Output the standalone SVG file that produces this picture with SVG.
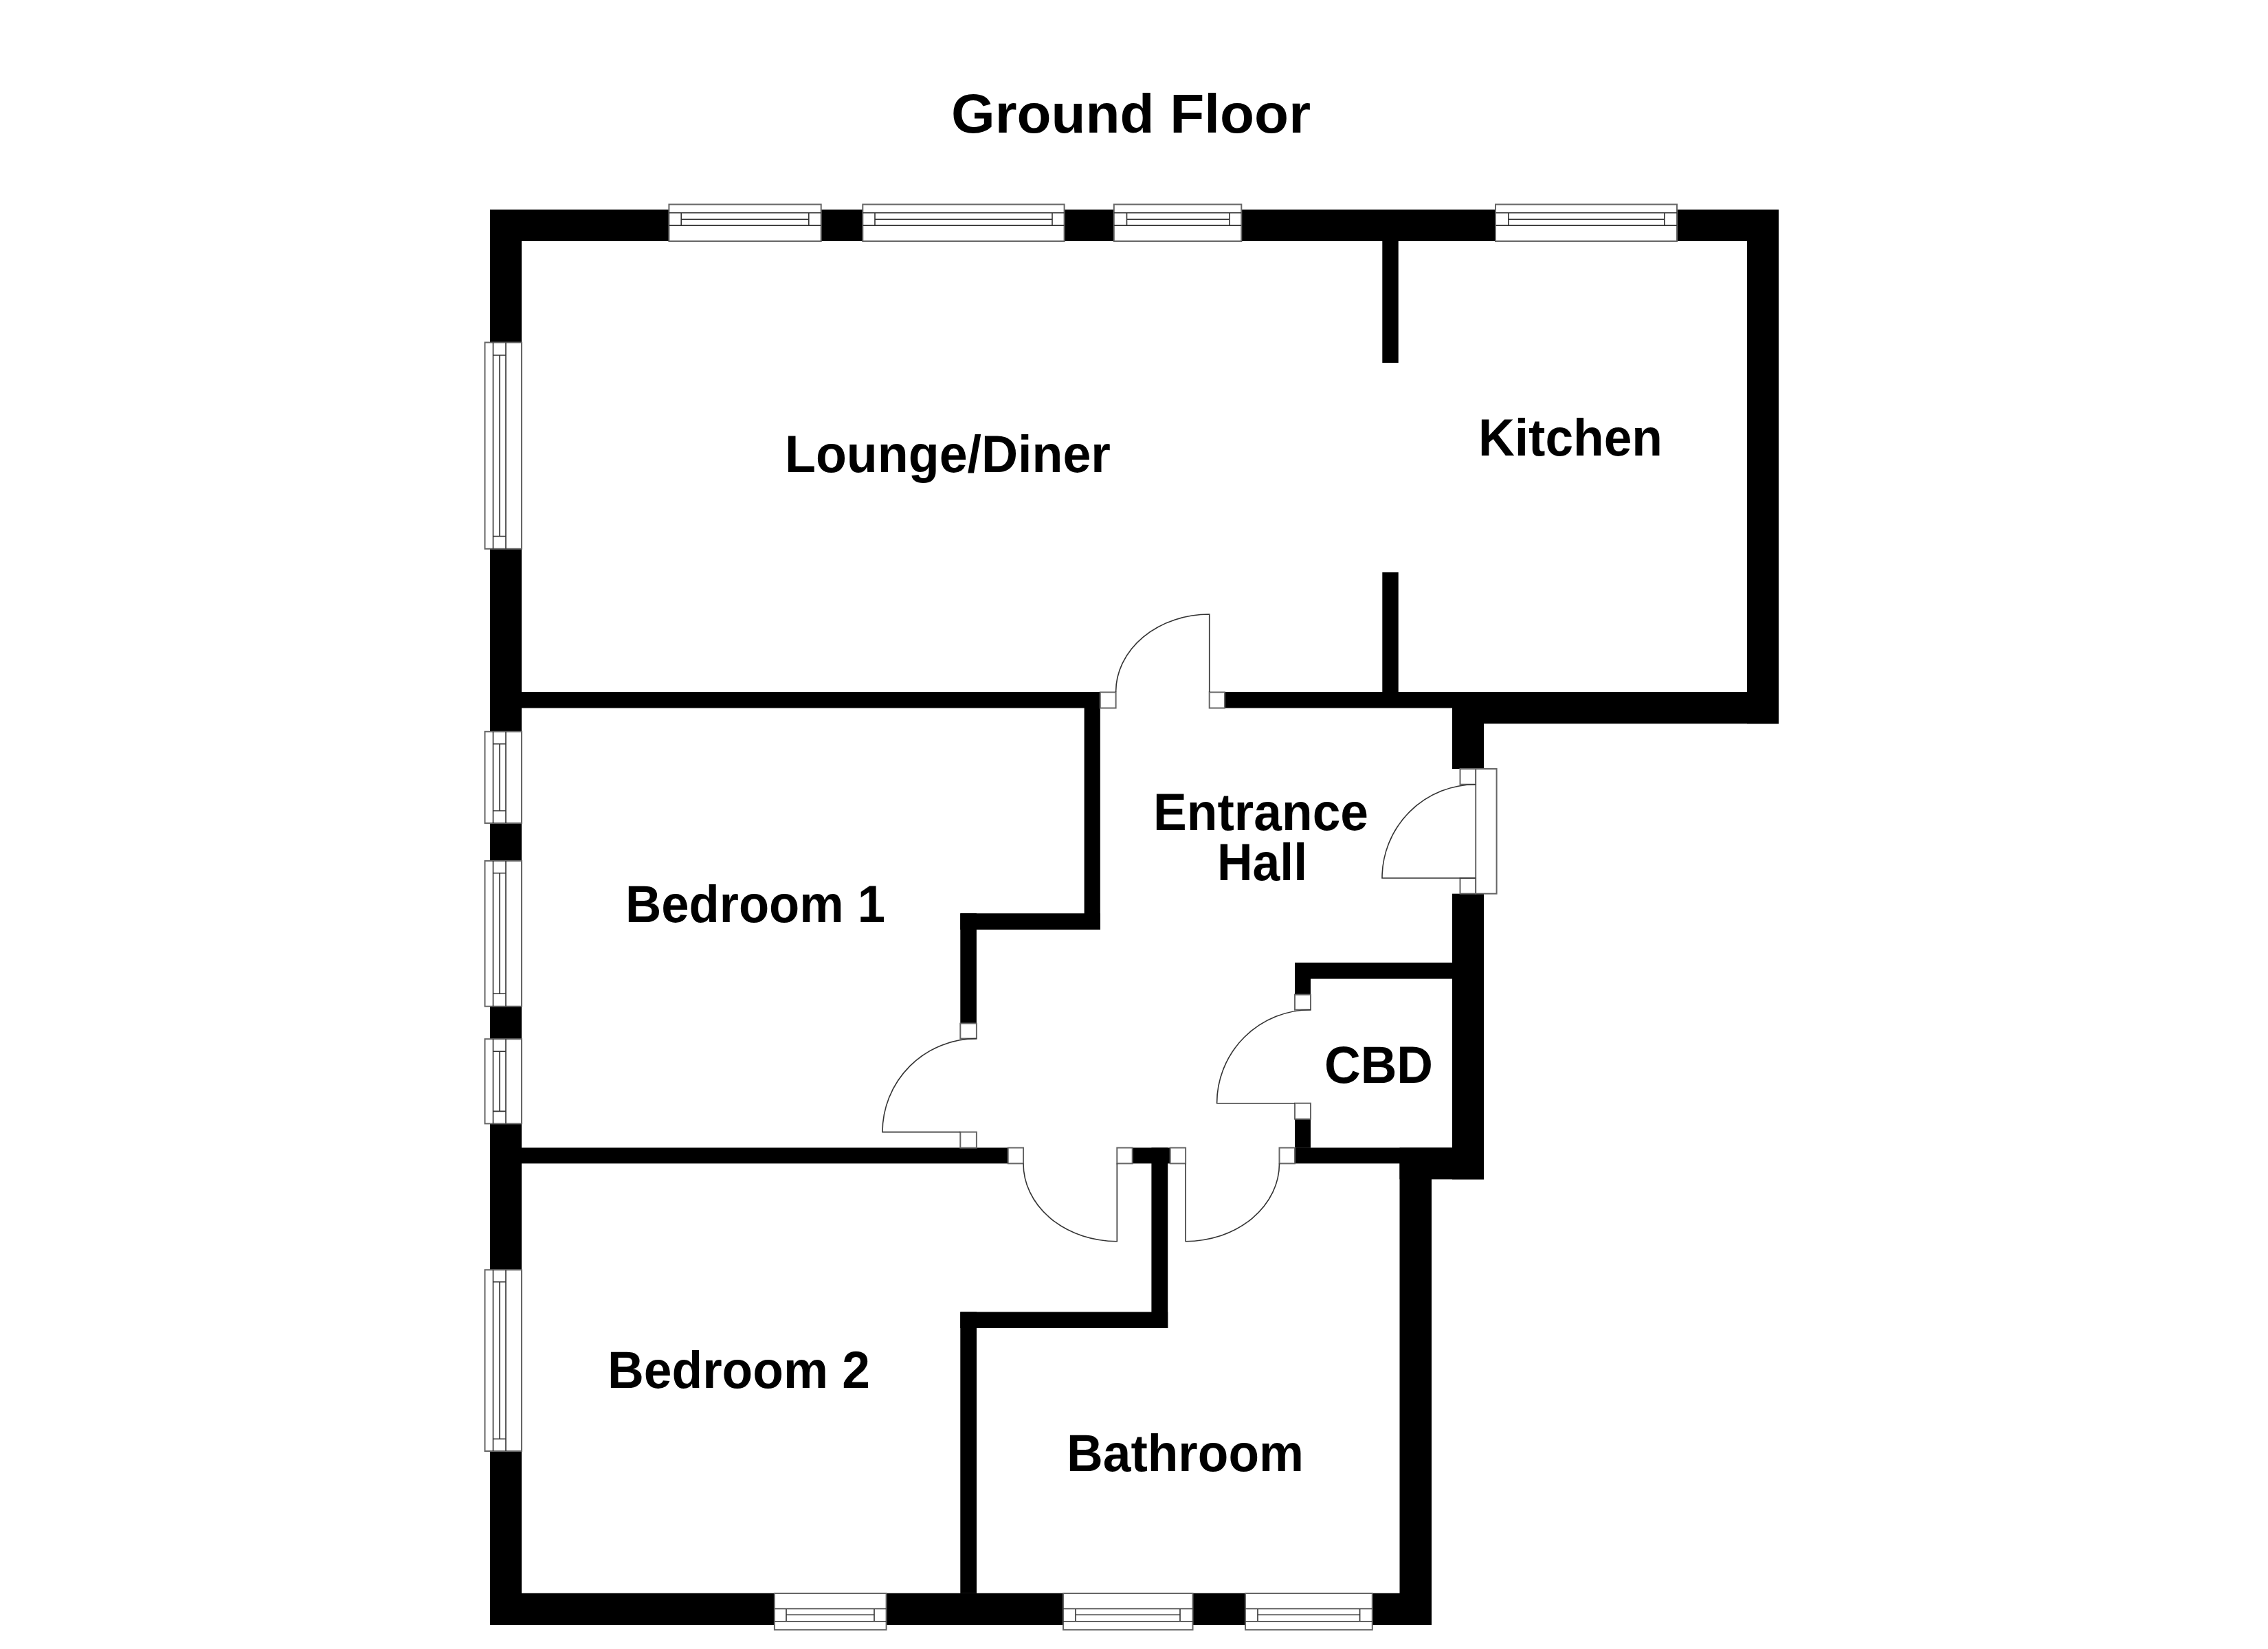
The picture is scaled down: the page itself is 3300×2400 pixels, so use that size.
<svg xmlns="http://www.w3.org/2000/svg" width="3300" height="2400" viewBox="0 0 3300 2400">
<style>
.wall{fill:#000}
.fit{fill:#fff;stroke:#666;stroke-width:2}
.line{fill:none;stroke:#333;stroke-width:1.6}
.label{font-family:"Liberation Sans",Arial,sans-serif;font-weight:700;font-size:76px;fill:#000}
</style>
<rect width="3300" height="2400" fill="#fff"/>
<g id="walls" class="wall">
<rect x="713" y="305" width="1875" height="46"/>
<rect x="713" y="305" width="46" height="2060"/>
<rect x="2542" y="305" width="46" height="748.3"/>
<rect x="2113" y="1007" width="475" height="46.3"/>
<rect x="2011.3" y="351" width="23.4" height="177"/>
<rect x="2011.3" y="833" width="23.4" height="174"/>
<rect x="759" y="1007" width="841.8" height="23.5"/>
<rect x="1782" y="1007" width="331" height="23.5"/>
<rect x="2113" y="1007" width="46" height="112"/>
<rect x="2113" y="1300.7" width="46" height="415.7"/>
<rect x="1884" y="1401" width="229" height="23.6"/>
<rect x="1884" y="1401" width="23" height="46.6"/>
<rect x="1884" y="1628.7" width="23" height="42"/>
<rect x="1884" y="1670.4" width="275" height="23"/>
<rect x="2036.5" y="1670.4" width="122.5" height="46"/>
<rect x="2036.5" y="1693" width="46.5" height="672"/>
<rect x="713" y="2318.8" width="1370" height="46.2"/>
<rect x="1577.6" y="1007" width="23.2" height="346"/>
<rect x="1397.3" y="1329.3" width="203.5" height="23.7"/>
<rect x="1397.3" y="1329.3" width="23.6" height="160.2"/>
<rect x="759" y="1670.4" width="707.7" height="23"/>
<rect x="1647.7" y="1670.4" width="55" height="23"/>
<rect x="1675.4" y="1670.4" width="23.8" height="262.6"/>
<rect x="1397.3" y="1909.4" width="301.9" height="23.6"/>
<rect x="1397.3" y="1909.4" width="23.7" height="409.5"/>
</g>
<g id="windows" class="fit">
<g id="window-top-1"><rect x="973.4" y="297.5" width="221.3" height="53.5"/><path class="line" d="M973.4 309.8H1194.7M973.4 328.1H1194.7M991.2 309.8V328.1M1176.8 309.8V328.1M991.2 319.3H1176.8"/></g>
<g id="window-top-2"><rect x="1255.3" y="297.5" width="293.3" height="53.5"/><path class="line" d="M1255.3 309.8H1548.6M1255.3 328.1H1548.6M1273 309.8V328.1M1531 309.8V328.1M1273 319.3H1531"/></g>
<g id="window-top-3"><rect x="1620.8" y="297.5" width="185.5" height="53.5"/><path class="line" d="M1620.8 309.8H1806.3M1620.8 328.1H1806.3M1639.5 309.8V328.1M1788.9 309.8V328.1M1639.5 319.3H1788.9"/></g>
<g id="window-top-4"><rect x="2176" y="297.5" width="264" height="53.5"/><path class="line" d="M2176 309.8H2440M2176 328.1H2440M2194.8 309.8V328.1M2421.8 309.8V328.1M2194.8 319.3H2421.8"/></g>
<g id="window-left-1"><rect x="705.5" y="498.4" width="53.5" height="300.4"/><path class="line" d="M717.5 498.4V798.8M736 498.4V798.8M717.5 517H736M717.5 780.5H736M727 517V780.5"/></g>
<g id="window-left-2"><rect x="705.5" y="1064.8" width="53.5" height="133.3"/><path class="line" d="M717.5 1064.8V1198.1M736 1064.8V1198.1M717.5 1082.8H736M717.5 1180H736M727 1082.8V1180"/></g>
<g id="window-left-3"><rect x="705.5" y="1252.9" width="53.5" height="211.8"/><path class="line" d="M717.5 1252.9V1464.7M736 1252.9V1464.7M717.5 1270.8H736M717.5 1446.3H736M727 1270.8V1446.3"/></g>
<g id="window-left-4"><rect x="705.5" y="1512.2" width="53.5" height="123.2"/><path class="line" d="M717.5 1512.2V1635.4M736 1512.2V1635.4M717.5 1530.2H736M717.5 1617.4H736M727 1530.2V1617.4"/></g>
<g id="window-left-5"><rect x="705.5" y="1848.2" width="53.5" height="263.8"/><path class="line" d="M717.5 1848.2V2112M736 1848.2V2112M717.5 1865.8H736M717.5 2094.3H736M727 1865.8V2094.3"/></g>
<g id="window-bottom-1"><rect x="1126.9" y="2319" width="162.7" height="53.1"/><path class="line" d="M1126.9 2359.8H1289.6M1126.9 2341.5H1289.6M1144 2341.5V2359.8M1272 2341.5V2359.8M1144 2350.3H1272"/></g>
<g id="window-bottom-2"><rect x="1547" y="2319" width="188.5" height="53.1"/><path class="line" d="M1547 2359.8H1735.5M1547 2341.5H1735.5M1565 2341.5V2359.8M1717 2341.5V2359.8M1565 2350.3H1717"/></g>
<g id="window-bottom-3"><rect x="1812" y="2319" width="184.8" height="53.1"/><path class="line" d="M1812 2359.8H1996.8M1812 2341.5H1996.8M1830 2341.5V2359.8M1978.6 2341.5V2359.8M1830 2350.3H1978.6"/></g>
</g>
<g id="doors" class="fit">
<g id="door-lounge"><rect x="1600.8" y="1007.5" width="22.8" height="23"/><rect x="1759.7" y="1007.5" width="22.3" height="23"/><path class="line" d="M1623.6 1007A136 113 0 0 1 1759.7 894V1007"/></g>
<g id="door-entrance"><rect x="2124.5" y="1119" width="22.7" height="22.7"/><rect x="2124.5" y="1278" width="22.7" height="22.7"/><rect x="2147.2" y="1119" width="30.4" height="181.7"/><path class="line" d="M2147.2 1141.7A136.2 136.3 0 0 0 2011 1278H2147.2"/></g>
<g id="door-bedroom1"><rect x="1397.3" y="1489.5" width="23.6" height="22.1"/><rect x="1397.3" y="1647.6" width="23.6" height="23"/><path class="line" d="M1420.9 1511.6A136.9 136 0 0 0 1284 1647.6H1397.3"/></g>
<g id="door-cbd"><rect x="1884" y="1447.6" width="23" height="22.1"/><rect x="1884" y="1605.7" width="23" height="23"/><path class="line" d="M1907 1469.7A136.4 136 0 0 0 1770.6 1605.7H1884"/></g>
<g id="door-bedroom2"><rect x="1466.7" y="1670.5" width="22.3" height="22.9"/><rect x="1625.3" y="1670.5" width="22.4" height="22.9"/><path class="line" d="M1489 1693.4A136.3 113.3 0 0 0 1625.3 1806.7V1693.4"/></g>
<g id="door-bathroom"><rect x="1702.7" y="1670.5" width="22.4" height="22.9"/><rect x="1861.5" y="1670.5" width="22.5" height="22.9"/><path class="line" d="M1725.1 1693.4V1806.7A136.4 113.3 0 0 0 1861.5 1693.4"/></g>
</g>
<g id="labels">
<text class="label" x="1384" y="193" style="font-size:80px" textLength="523" lengthAdjust="spacingAndGlyphs">Ground Floor</text>
<text class="label" x="1142" y="687" textLength="474" lengthAdjust="spacingAndGlyphs">Lounge/Diner</text>
<text class="label" x="2151" y="663" textLength="268" lengthAdjust="spacingAndGlyphs">Kitchen</text>
<text class="label" x="1678" y="1208" textLength="313" lengthAdjust="spacingAndGlyphs">Entrance</text>
<text class="label" x="1771" y="1280.5" textLength="131" lengthAdjust="spacingAndGlyphs">Hall</text>
<text class="label" x="910" y="1342" textLength="378" lengthAdjust="spacingAndGlyphs">Bedroom 1</text>
<text class="label" x="1927" y="1575.5" textLength="158" lengthAdjust="spacingAndGlyphs">CBD</text>
<text class="label" x="884" y="2019.5" textLength="382" lengthAdjust="spacingAndGlyphs">Bedroom 2</text>
<text class="label" x="1552" y="2141" textLength="345" lengthAdjust="spacingAndGlyphs">Bathroom</text>
</g>
</svg>
